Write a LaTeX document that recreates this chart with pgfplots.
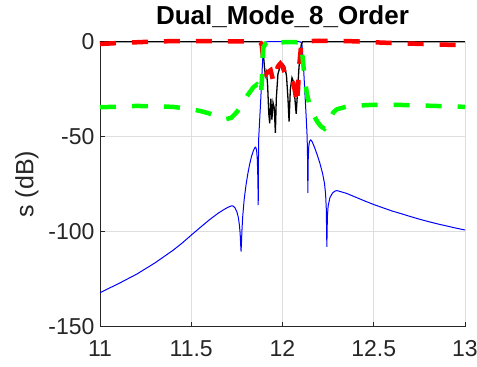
\documentclass[border=0pt]{standalone}
\usepackage{fontspec}
\setmainfont{Liberation Sans}
\usepackage{pgfplots}
\pgfplotsset{compat=1.18}

\pgfplotstableread{
x y
11.00 -132.1
11.10 -127.4
11.20 -122.4
11.30 -116.5
11.40 -109.8
11.45 -106.0
11.50 -101.8
11.55 -97.7
11.60 -93.7
11.65 -90.1
11.68 -88.3
11.70 -87.2
11.72 -86.4
11.73 -86.5
11.74 -87.5
11.75 -89.5
11.758 -92.5
11.764 -96.5
11.768 -101
11.771 -107
11.773 -110.5
11.775 -106
11.778 -99
11.782 -92
11.79 -83
11.80 -75.5
11.81 -69.5
11.82 -64.5
11.83 -60.5
11.84 -57.5
11.848 -55.8
11.853 -55.5
11.858 -57
11.862 -62
11.865 -72
11.867 -86
11.869 -52
11.875 -41
11.88 -32
11.885 -22
11.89 -12
11.894 -5
11.898 -1.5
11.905 -0.3
11.92 0
12.09 0
12.10 -0.2
12.106 -1
12.11 -5
12.115 -13
12.12 -22
12.125 -31
12.13 -40
12.135 -50
12.137 -60
12.139 -79.5
12.141 -62
12.144 -55
12.148 -52.5
12.155 -51.7
12.162 -52.5
12.175 -55.5
12.19 -59.5
12.205 -64
12.22 -69.5
12.23 -74.5
12.236 -80
12.24 -88
12.243 -108
12.246 -92
12.25 -86.5
12.26 -82
12.275 -79.5
12.29 -78.5
12.30 -78.4
12.35 -79.8
12.40 -81.8
12.45 -83.8
12.50 -85.7
12.55 -87.4
12.60 -89.1
12.65 -90.5
12.70 -92
12.75 -93.4
12.80 -94.7
12.85 -95.9
12.90 -97
12.95 -98.1
13.00 -99.1
}\sTwoOne

\pgfplotstableread{
x y
11.00 0
11.88 0
11.885 -0.5
11.893 -4
11.90 -12
11.906 -18
11.912 -16
11.918 -22
11.925 -38
11.93 -43
11.936 -30
11.942 -41
11.948 -32
11.955 -35
11.961 -48
11.966 -30
11.975 -17
11.99 -12
12.00 -11.5
12.012 -13
12.022 -18
12.03 -30
12.036 -42
12.043 -25
12.052 -19
12.06 -21
12.068 -30
12.075 -38
12.082 -27
12.09 -14
12.097 -6
12.103 -1.5
12.11 0
13.00 0
}\sOneOne

\pgfplotstableread{
x y
11.00 -1.2
11.10 -0.7
11.20 -0.3
11.30 0.1
11.40 0.3
11.50 0.3
11.60 0.3
11.70 0.2
11.80 0.1
11.87 0
11.885 -1
11.893 -8
11.90 -15
11.91 -17
11.92 -16
11.935 -15
11.95 -21
11.96 -18
11.975 -13
11.988 -11.5
12.00 -13
12.015 -17
12.03 -21
12.045 -20
12.06 -22
12.07 -27
12.078 -33
12.085 -25
12.092 -12
12.10 -4
12.107 0
12.15 0.3
12.20 0.5
12.30 0.4
12.40 0.2
12.50 -0.3
12.60 -0.7
12.70 -1
12.80 -1.3
12.90 -1.6
13.00 -1.8
}\measOneOne

\pgfplotstableread{
x y
11.00 -34.5
11.10 -34.2
11.20 -33.8
11.30 -34
11.40 -34.3
11.50 -35.5
11.55 -36.5
11.60 -37.8
11.65 -39.5
11.69 -40.8
11.72 -40
11.75 -37
11.78 -33
11.81 -28
11.84 -24
11.86 -22.5
11.875 -24
11.882 -28
11.887 -20
11.89 -10
11.895 -3
11.905 -1.5
11.915 -2.5
11.93 -2
11.95 -1
11.98 -0.3
12.00 -0.3
12.05 -0.2
12.08 -0.3
12.095 0
12.10 -0.5
12.105 -3
12.11 -8
12.118 -16
12.125 -22
12.135 -28
12.15 -34
12.17 -38.5
12.19 -42
12.21 -44.5
12.23 -45.8
12.245 -44
12.26 -40.5
12.28 -37
12.30 -35.5
12.35 -34.2
12.40 -33.7
12.50 -33.2
12.60 -33.2
12.70 -33.4
12.80 -33.7
12.90 -34
13.00 -34.3
}\measTwoOne

\begin{document}
\begin{tikzpicture}
\path[use as bounding box] (-100pt,-40.3pt) rectangle (377pt,326.7pt);
\begin{axis}[
  scale only axis,
  width=365pt, height=285pt,
  xmin=11, xmax=13, ymin=-150, ymax=0,
  xtick={11,11.5,12,12.5,13},
  ytick={-150,-100,-50,0},
  axis x line*=bottom, axis y line*=left,
  tick align=inside, major tick length=5pt,
  grid=major,
  grid style={black!13, line width=0.7pt},
  axis line style={black!85, line width=0.7pt},
  tick style={black!85, line width=0.7pt},
  /pgf/number format/assume math mode=true,
  ticklabel style={font=\fontsize{23}{23}\selectfont, text=black!85},
  xticklabel style={yshift=-10pt},
  yticklabel style={xshift=-2pt},
  ylabel={s (dB)},
  ylabel style={font=\fontsize{25}{25}\selectfont, text=black!85,
    at={(axis description cs:-0.2,0.5)}, anchor=center},
  title={\bfseries Dual\_Mode\_8\_Order},
  title style={font=\fontsize{26}{26}\selectfont,
    at={(axis description cs:0.5,1)}, anchor=base, yshift=11.5pt},
  clip=false,
]
\addplot[blue, line width=1pt] table {\sTwoOne};
\addplot[black, line width=1.3pt] table {\sOneOne};
\addplot[red, line width=4.5pt, dash pattern=on 16pt off 16pt] table {\measOneOne};
\addplot[green, line width=4.5pt, dash pattern=on 16pt off 16pt] table {\measTwoOne};
\end{axis}
\end{tikzpicture}
\end{document}
